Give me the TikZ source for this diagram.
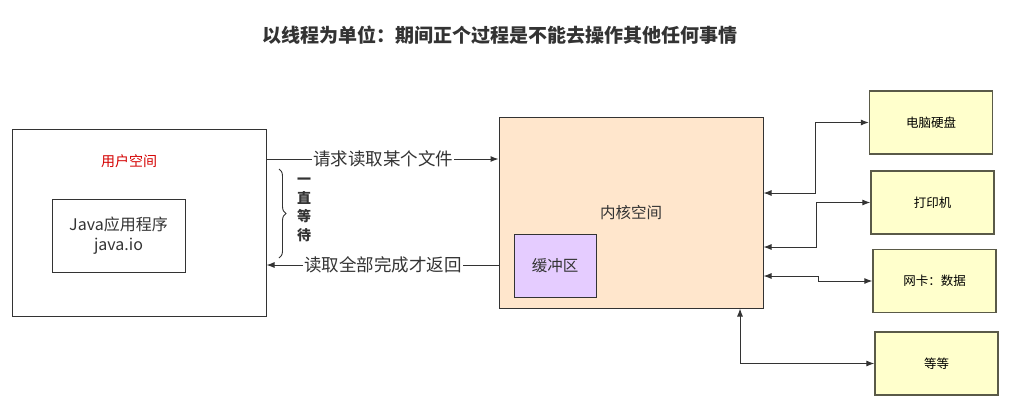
\documentclass[tikz,border=0pt]{standalone}
\usepackage{fontspec}
\setmainfont{Noto Sans CJK SC}
\usepackage{xcolor}
\usetikzlibrary{arrows.meta, decorations.pathreplacing}

\definecolor{kernelfill}{HTML}{FFE6CC}
\definecolor{bufferfill}{HTML}{E5CCFF}
\definecolor{devicefill}{HTML}{FFFFCC}
\definecolor{edgegray}{HTML}{333333}
\definecolor{deviceline}{HTML}{5A5A48}
\definecolor{userred}{HTML}{D40000}

\begin{document}
\begin{tikzpicture}[x=1pt, y=-1pt,
    box/.style={draw=edgegray, line width=1pt, minimum width=#1, inner sep=0pt},
    device/.style={draw=deviceline, line width=1.3pt, fill=devicefill, minimum width=123pt, minimum height=63pt, font=\fontsize{12.5}{14}\selectfont},
    flow/.style={draw=edgegray, line width=1pt, -{Latex[length=8pt,width=6pt]}},
    twoway/.style={draw=edgegray, line width=1pt, {Latex[length=8pt,width=6pt]}-{Latex[length=8pt,width=6pt]}},
    edgelabel/.style={fill=white, inner sep=1pt, text=edgegray, font=\fontsize{17.5}{19}\selectfont}]
  \useasboundingbox (0,0) rectangle (1009,405);
  % title
  \node[font=\bfseries\fontsize{19}{21}\selectfont, text=edgegray] (title) at (500,35) {以线程为单位：期间正个过程是不能去操作其他任何事情};
  % user side
  \node[box=254pt, minimum height=187pt] (user) at (139,222.5) {};
  \node[text=userred, font=\fontsize{14}{16}\selectfont] (userlabel) at (129,161) {用户空间};
  \node[box=133pt, minimum height=73pt, align=center, font=\fontsize{16}{20}\selectfont, text=edgegray] (app) at (118.5,235.5) {Java应用程序\\java.io};
  % kernel side
  \node[box=264pt, minimum height=191pt, fill=kernelfill] (kernel) at (631,212.5) {};
  \node[font=\fontsize{15.5}{17}\selectfont, text=edgegray] (kernellabel) at (631,213) {内核空间};
  \node[box=82pt, minimum height=63pt, fill=bufferfill, font=\fontsize{15.5}{17}\selectfont, text=edgegray] (buffer) at (555,265.5) {缓冲区};
  % devices
  \node[device] (disk) at (931,122.5) {电脑硬盘};
  \node[device] (printer) at (932.5,202.5) {打印机};
  \node[device] (nic) at (934.5,281) {网卡：数据};
  \node[device] (others) at (936.5,363.5) {等等};
  % request and return
  \node[edgelabel] (req) at (383,159) {请求读取某个文件};
  \node[edgelabel] (back) at (383,265) {读取全部完成才返回};
  \draw[flow] (user.east |- req) -- (req.west) (req.east) -- (kernel.west |- req);
  \draw[flow] (kernel.west |- back) -- (back.east) (back.west) -- (user.east |- back);
  % waiting
  \draw[edgegray, line width=0.9pt, decoration={brace, amplitude=7pt}, decorate] (279,169) -- (279,258);
  \node[align=center, font=\bfseries\fontsize{14}{18.5}\selectfont, text=edgegray] (wait) at (304,210) {一\\直\\等\\待};
  % kernel to devices
  \draw[twoway] ([yshift=19.5pt]kernel.east) -- ++(52,0) |- (disk.west);
  \draw[twoway] ([yshift=-34.5pt]kernel.east) -- ++(53,0) |- (printer.west);
  \draw[twoway] ([yshift=-63.5pt]kernel.east) -- ++(55,0) |- (nic.west);
  \draw[twoway] ([xshift=109pt]kernel.south) |- (others.west);
\end{tikzpicture}
\end{document}
